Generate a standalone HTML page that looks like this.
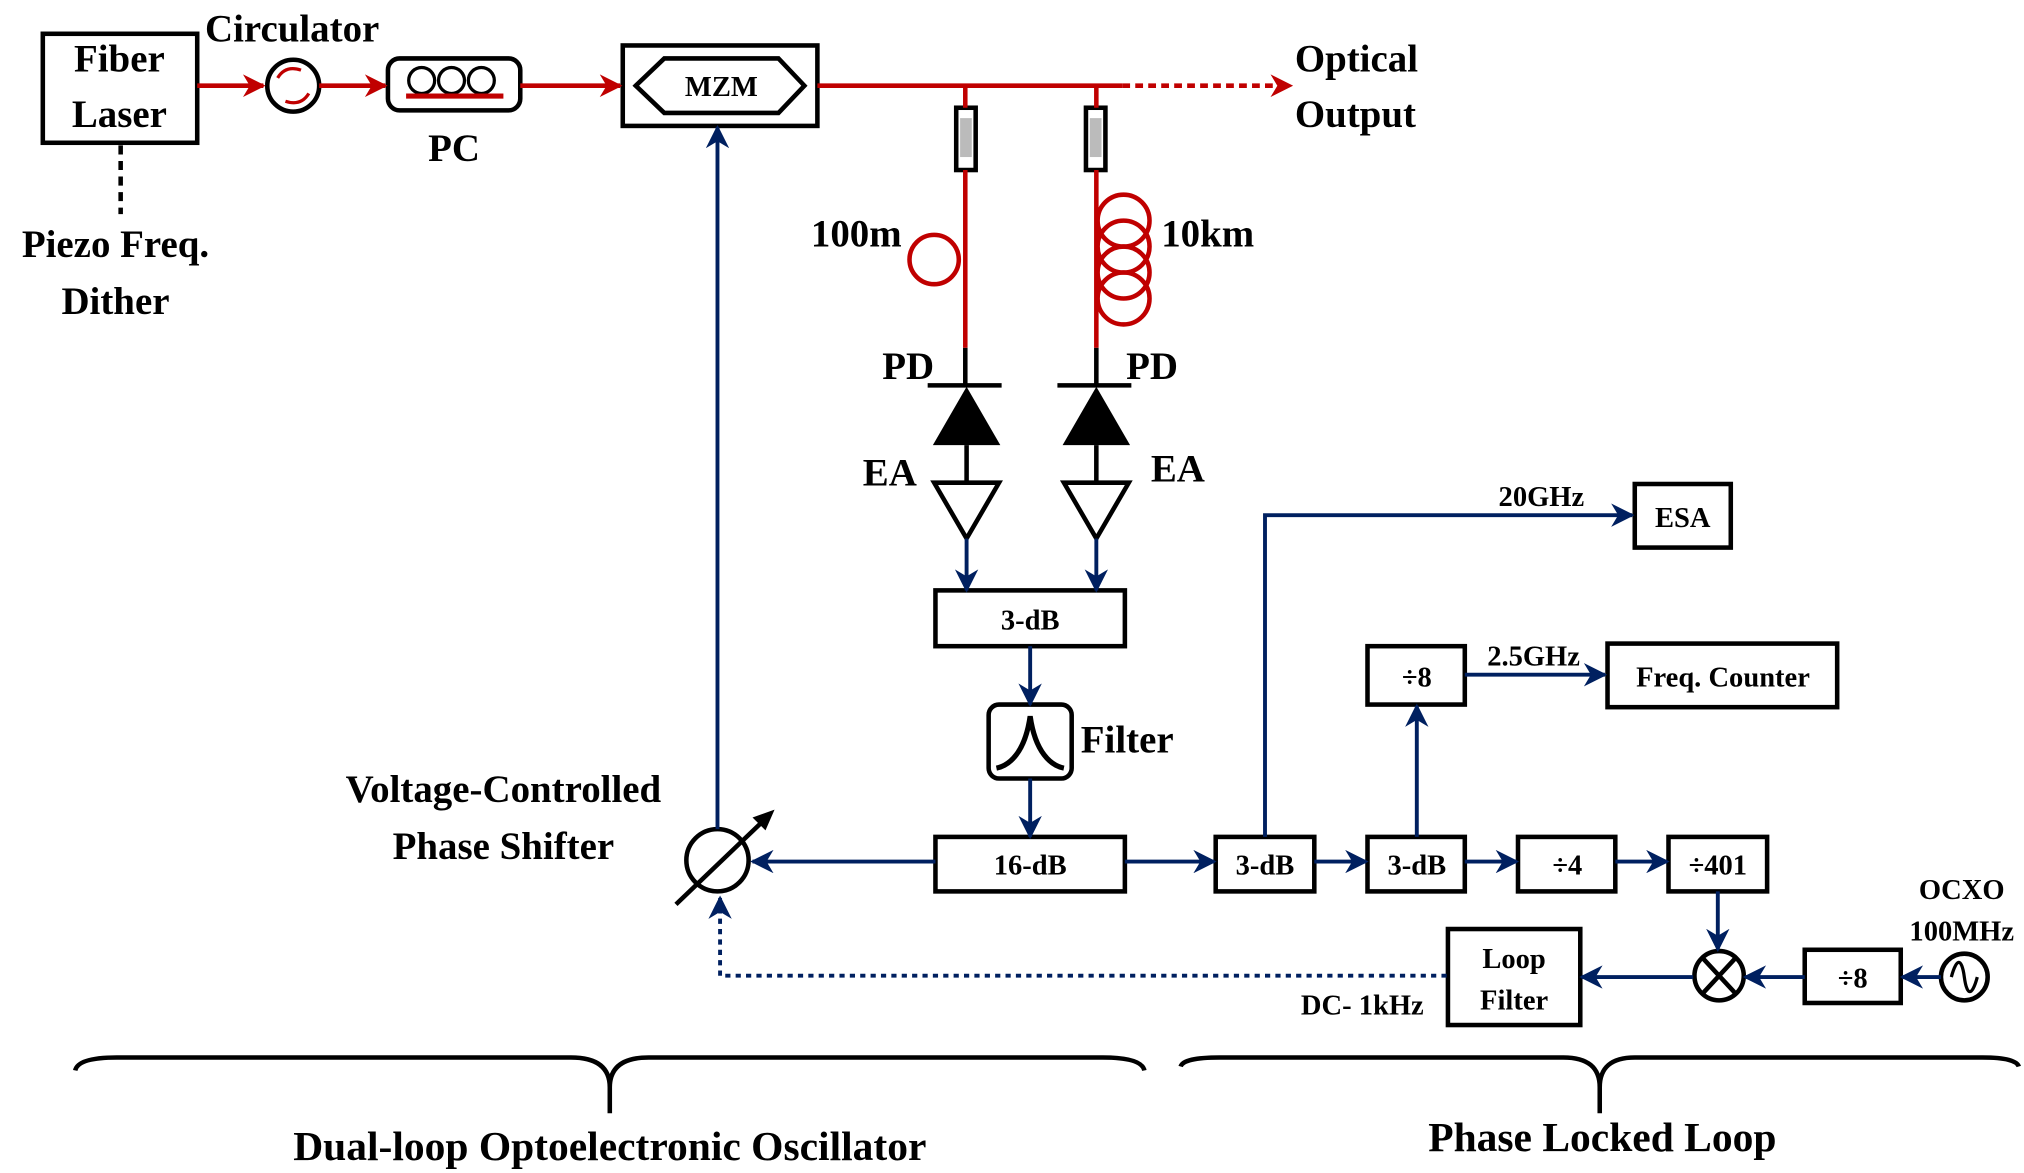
<!DOCTYPE html>
<html><head><meta charset="utf-8"><style>html,body{margin:0;padding:0;background:#fff}svg{display:block}svg text{font-family:"Liberation Serif",serif;font-weight:bold}</style></head><body>
<svg width="2024" height="1173" viewBox="0 0 1560 904" xmlns="http://www.w3.org/2000/svg">
<defs>
<marker id="ar" viewBox="0 0 10 10" refX="9" refY="5" markerWidth="5" markerHeight="5" orient="auto" markerUnits="strokeWidth"><path d="M0,0L10,5L0,10L3,5z" fill="#c00000"/></marker>
<marker id="ab" viewBox="0 0 10 10" refX="9" refY="5" markerWidth="6" markerHeight="6" orient="auto" markerUnits="strokeWidth"><path d="M0,0L10,5L0,10L3,5z" fill="#002060"/></marker>
</defs>
<g fill="none" stroke="#000" stroke-width="3.5">
<rect x="33" y="26" width="119" height="84"/>
<circle cx="226" cy="66" r="20"/>
<rect x="299" y="45" width="102" height="40" rx="9"/>
<circle cx="325" cy="62" r="10" stroke-width="2.5"/><circle cx="348" cy="62" r="10" stroke-width="2.5"/><circle cx="371" cy="62" r="10" stroke-width="2.5"/>
<rect x="480" y="35" width="150" height="62"/>
<polygon points="490,66 512,45 600,45 620,66 600,87 512,87"/>
<rect x="737" y="83" width="15" height="48"/><rect x="837" y="83" width="15" height="48"/>
<rect x="721" y="455" width="146" height="43"/>
<rect x="762" y="543" width="64" height="57" rx="8"/>
<rect x="721" y="645" width="146" height="42"/>
<rect x="937" y="645" width="76" height="42"/>
<rect x="1054" y="645" width="75" height="42"/>
<rect x="1170" y="645" width="75" height="42"/>
<rect x="1286" y="645" width="76" height="42"/>
<rect x="1260" y="373" width="74" height="49"/>
<rect x="1054" y="498" width="75" height="45"/>
<rect x="1239" y="496" width="177" height="49"/>
<rect x="1391" y="732" width="74" height="41"/>
<rect x="1116" y="716" width="102" height="74"/>
<circle cx="1325" cy="752" r="19"/>
<path d="M1312,738L1338,766M1338,738L1312,766"/>
<circle cx="1514" cy="753" r="18"/>
<path d="M1504,753C1508,738 1512,738 1514,753S1520,768 1524,753" stroke-width="2.5"/>
<circle cx="553" cy="663" r="24"/>
<path d="M768,592C778,590 790,580 794,552C798,580 810,590 820,592" stroke-width="4"/>
<path d="M744,268V297M845,268V297M715,297H772M815,297H872M745,343V372M845,343V372"/>
<polygon points="720,372 770,372 745,415"/><polygon points="820,372 870,372 845,415"/>
<path d="M93,112V165" stroke-dasharray="7,5"/>
<path d="M58,825Q60,815 90,815H440Q470,815 470,838Q470,815 500,815H850Q880,815 882,825M470,836V858"/>
<path d="M910,822Q912,815 940,815H1205Q1233,815 1233,838Q1233,815 1260,815H1528Q1554,815 1556,822M1233,836V858"/>
</g>
<polygon points="745,298 719,343 771,343" fill="#000"/><polygon points="845,298 819,343 871,343" fill="#000"/>
<rect x="740" y="91" width="9" height="30" fill="#bbb"/><rect x="840" y="91" width="9" height="30" fill="#bbb"/>
<g fill="none" stroke="#c00000" stroke-width="3.5">
<path d="M152,66H203" marker-end="url(#ar)"/>
<path d="M246,66H297" marker-end="url(#ar)"/>
<path d="M401,66H478" marker-end="url(#ar)"/>
<path d="M630,66H865"/>
<path d="M865,66H995" stroke-dasharray="6,4" marker-end="url(#ar)"/>
<path d="M744,66V83M845,66V83M744,131V268M845,131V268"/>
<circle cx="720" cy="200" r="19"/>
<circle cx="866" cy="170" r="20"/><circle cx="866" cy="190" r="20"/><circle cx="866" cy="210" r="20"/><circle cx="866" cy="230" r="20"/>
<path d="M313,74H388" stroke-width="4"/>
<path d="M214,60Q220,50 232,54M238,72Q232,82 220,78" stroke-width="2.5"/>
</g>
<g fill="none" stroke="#002060" stroke-width="3">
<path d="M745,415V455" marker-end="url(#ab)"/><path d="M845,415V455" marker-end="url(#ab)"/>
<path d="M794,498V543" marker-end="url(#ab)"/><path d="M794,600V645" marker-end="url(#ab)"/>
<path d="M721,664H580" marker-end="url(#ab)"/>
<path d="M553,639V98" marker-end="url(#ab)"/>
<path d="M867,664H936" marker-end="url(#ab)"/>
<path d="M1013,664H1053" marker-end="url(#ab)"/>
<path d="M1129,664H1169" marker-end="url(#ab)"/>
<path d="M1245,664H1285" marker-end="url(#ab)"/>
<path d="M975,645V397H1258" marker-end="url(#ab)"/>
<path d="M1092,645V544" marker-end="url(#ab)"/>
<path d="M1129,520H1237" marker-end="url(#ab)"/>
<path d="M1324,687V732" marker-end="url(#ab)"/>
<path d="M1496,753H1466" marker-end="url(#ab)"/>
<path d="M1391,753H1345" marker-end="url(#ab)"/>
<path d="M1305,753H1219" marker-end="url(#ab)"/>
<path d="M1115,752H555V692" stroke-dasharray="4,4" marker-end="url(#ab)"/>
</g>
<path d="M521,697L590,631" stroke="#000" stroke-width="3.5"/>
<polygon points="597,624 580,630 590,640" fill="#000"/>
<g fill="#000" font-size="30">
<text x="92" y="55" text-anchor="middle">Fiber</text>
<text x="92" y="98" text-anchor="middle">Laser</text>
<text x="158" y="32">Circulator</text>
<text x="350" y="124" text-anchor="middle">PC</text>
<text x="556" y="74" text-anchor="middle" font-size="22">MZM</text>
<text x="998" y="55">Optical</text>
<text x="998" y="98">Output</text>
<text x="89" y="198" text-anchor="middle">Piezo Freq.</text>
<text x="89" y="242" text-anchor="middle">Dither</text>
<text x="625" y="190">100m</text>
<text x="895" y="190">10km</text>
<text x="680" y="292">PD</text>
<text x="868" y="292">PD</text>
<text x="665" y="374">EA</text>
<text x="887" y="371">EA</text>
<text x="833" y="580">Filter</text>
<text x="388" y="618" text-anchor="middle">Voltage-Controlled</text>
<text x="388" y="662" text-anchor="middle">Phase Shifter</text>
<text x="470" y="894" text-anchor="middle" font-size="32">Dual-loop Optoelectronic Oscillator</text>
<text x="1235" y="887" text-anchor="middle" font-size="32">Phase Locked Loop</text>
</g>
<g fill="#000" font-size="22" text-anchor="middle">
<text x="794" y="485">3-dB</text>
<text x="794" y="674">16-dB</text>
<text x="975" y="674">3-dB</text>
<text x="1092" y="674">3-dB</text>
<text x="1208" y="674">÷4</text>
<text x="1324" y="674">÷401</text>
<text x="1297" y="406">ESA</text>
<text x="1092" y="529">÷8</text>
<text x="1328" y="529">Freq. Counter</text>
<text x="1428" y="761">÷8</text>
<text x="1167" y="746">Loop</text>
<text x="1167" y="778">Filter</text>
<text x="1188" y="390">20GHz</text>
<text x="1182" y="513">2.5GHz</text>
<text x="1050" y="782">DC- 1kHz</text>
<text x="1512" y="693">OCXO</text>
<text x="1512" y="725">100MHz</text>
</g>
</svg>
</body></html>
